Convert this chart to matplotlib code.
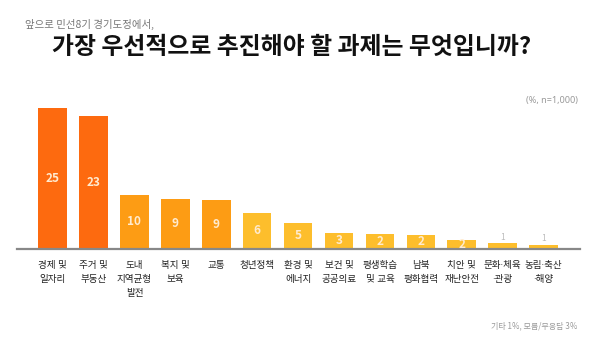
import matplotlib
matplotlib.use('Agg')
import matplotlib.pyplot as plt

plt.rcParams['font.family'] = ['Noto Sans CJK KR', 'DejaVu Sans']
TICK_FONT = ['Noto Sans', 'Noto Sans CJK KR']  # narrow middle dot for the labels

categories = ['경제 및\n일자리', '주거 및\n부동산', '도내\n지역균형\n발전', '복지 및\n보육',
              '교통', '청년정책', '환경 및\n에너지', '보건 및\n공공의료', '평생학습\n및 교육',
              '남북\n평화협력', '치안 및\n재난안전', '문화·체육\n·관광', '농림·축산\n·해양']
heights = [25, 23.6, 9.6, 8.8, 8.7, 6.4, 4.5, 2.7, 2.5, 2.4, 1.5, 0.9, 0.7]
value_labels = ['25', '23', '10', '9', '9', '6', '5', '3', '2', '2', '2', '1', '1']

colors = ['#FD6A0F'] * 2 + ['#FD9C14'] * 3 + ['#FDBE2C'] * 8

fig = plt.figure(figsize=(5.99, 3.45), dpi=100)
ax = fig.add_axes([17 / 599, 96.5 / 345, 563 / 599, 140.5 * 26 / 25 / 345])

x = range(len(categories))
ax.bar(x, heights, width=0.7, color=colors)

for i, (h, lab) in enumerate(zip(heights, value_labels)):
    if h < 1.2:
        ax.text(i, h + 0.3, lab, ha='center', va='bottom', fontsize=6, color='#BBBBBB')
    else:
        ax.text(i, h / 2, lab, ha='center', va='center', fontsize=8.5,
                fontweight='bold', color='#FFEBD0')

ax.set_xlim(-0.87, 12.89)
ax.set_ylim(0, 26)
ax.set_xticks(list(x))
ax.set_xticklabels(categories, fontsize=6.9, color='#222222', linespacing=1.7,
                   family=TICK_FONT, fontweight='medium')
ax.tick_params(axis='x', length=0, pad=9)
ax.set_yticks([])
for side in ['top', 'left', 'right']:
    ax.spines[side].set_visible(False)
ax.spines['bottom'].set_color('#888888')
ax.spines['bottom'].set_linewidth(1.6)

fig.text(25 / 599, 1 - 24 / 345, '앞으로 민선8기 경기도정에서,', fontsize=7.5,
         color='#777777', va='center', ha='left')
fig.text(292 / 599, 1 - 47 / 345, '가장 우선적으로 추진해야 할 과제는 무엇입니까?',
         fontsize=17.2, fontweight='bold', color='#111111', ha='center', va='center')
fig.text(578 / 599, 1 - 101 / 345, '(%, n=1,000)', fontsize=6.5, color='#999999',
         ha='right', va='center', family=TICK_FONT)
fig.text(577 / 599, 1 - 326 / 345, '기타 1%, 모름/무응답 3%', fontsize=5.8,
         color='#999999', ha='right', va='center')

fig.savefig('out.png', dpi=100)
